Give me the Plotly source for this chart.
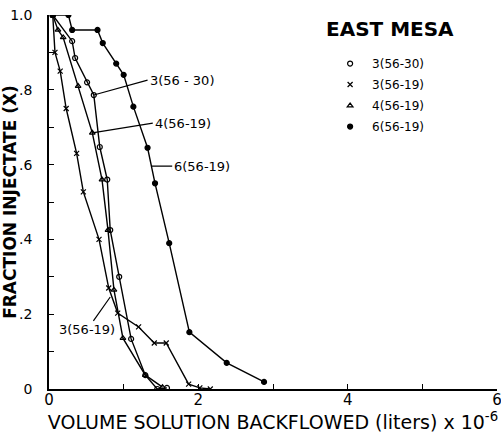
import plotly.graph_objects as go

# ---- data ----
series_names = ["3(56-30)", "3(56-19)", "4(56-19)", "6(56-19)"]

x_3_56_30 = [0.05, 0.31, 0.35, 0.51, 0.60, 0.68, 0.78, 0.82, 0.94, 1.10, 1.29, 1.45, 1.58]
y_3_56_30 = [1.00, 0.93, 0.885, 0.82, 0.786, 0.647, 0.56, 0.425, 0.30, 0.134, 0.037, 0.0, 0.003]

x_3_56_19 = [0.05, 0.08, 0.15, 0.23, 0.37, 0.46, 0.67, 0.80, 0.92, 1.20, 1.41, 1.57, 1.87, 2.02, 2.16]
y_3_56_19 = [1.00, 0.90, 0.85, 0.75, 0.63, 0.527, 0.40, 0.27, 0.203, 0.166, 0.123, 0.123, 0.013, 0.003, 0.0]

x_4_56_19 = [0.05, 0.12, 0.19, 0.39, 0.58, 0.71, 0.79, 0.87, 0.99, 1.29, 1.52]
y_4_56_19 = [1.00, 0.96, 0.94, 0.81, 0.685, 0.56, 0.425, 0.265, 0.136, 0.037, 0.005]

x_6_56_19 = [0.05, 0.26, 0.31, 0.65, 0.72, 0.90, 1.00, 1.13, 1.32, 1.42, 1.61, 1.88, 2.38, 2.88]
y_6_56_19 = [1.00, 1.00, 0.96, 0.96, 0.925, 0.87, 0.84, 0.755, 0.645, 0.55, 0.39, 0.152, 0.07, 0.019]

x_tick_vals = [0, 1, 2, 3, 4, 5, 6]
x_tick_text = ["0", "", "2", "", "4", "", "6"]
y_tick_vals = [0, 0.1, 0.2, 0.3, 0.4, 0.5, 0.6, 0.7, 0.8, 0.9, 1.0]
y_tick_text = ["0", "", ".2", "", ".4", "", ".6", "", ".8", "", "1.0"]

series_x = [x_3_56_30, x_3_56_19, x_4_56_19, x_6_56_19]
series_y = [y_3_56_30, y_3_56_19, y_4_56_19, y_6_56_19]
symbols = ["circle-open", "x-thin-open", "triangle-up-open", "circle"]

FONT = "DejaVu Sans"
fig = go.Figure()

for name, xs, ys, sym in zip(series_names, series_x, series_y, symbols):
    fig.add_trace(go.Scatter(
        x=xs, y=ys, mode="lines+markers", name=name, showlegend=False,
        line=dict(color="black", width=1.4),
        marker=dict(symbol=sym, size=5, color="black", line=dict(color="black", width=1.2)),
    ))
# legend-only entries (markers only)
for name, sym in zip(series_names, symbols):
    fig.add_trace(go.Scatter(
        x=[None], y=[None], mode="markers", name=name, legendgroup=name,
        marker=dict(symbol=sym, size=5, color="black", line=dict(color="black", width=1.2)),
    ))

# curve labels with leader lines: (text, point x, point y, text x, text y, anchor)
labels = [
    ("3(56 - 30)", 0.60, 0.786, 1.32, 0.826, "left"),
    ("4(56-19)", 0.58, 0.685, 1.39, 0.711, "left"),
    ("6(56-19)", 1.37, 0.596, 1.65, 0.596, "left"),
    ("3(56-19)", 0.82, 0.246, 0.51, 0.158, "center"),
]
for text, px, py, tx, ty, anc in labels:
    fig.add_annotation(
        x=px, y=py, ax=tx, ay=ty, xref="x", yref="y", axref="x", ayref="y",
        text=text, showarrow=True, arrowhead=0, arrowwidth=1.2, arrowcolor="black",
        standoff=0, startstandoff=0, xanchor=anc,
        font=dict(family=FONT, size=13, color="black"),
    )

fig.add_annotation(
    x=0.761, y=0.963, xref="paper", yref="paper", showarrow=False,
    text="<b>EAST MESA</b>", xanchor="center", yanchor="middle",
    font=dict(family=FONT, size=20, color="black"),
)

fig.update_layout(
    width=501, height=434,
    margin=dict(l=49, r=4, t=15, b=45, autoexpand=False),
    paper_bgcolor="white", plot_bgcolor="white",
    font=dict(family=FONT, color="black"),
    legend=dict(
        x=0.623, y=0.909, xanchor="left", yanchor="top",
        font=dict(family=FONT, size=12, color="black"),
        bgcolor="rgba(0,0,0,0)", tracegroupgap=2, itemwidth=34,
    ),
    xaxis=dict(
        range=[0, 6], tickvals=x_tick_vals, ticktext=x_tick_text,
        ticks="inside", ticklen=5, tickcolor="black", tickwidth=1.2,
        showline=True, linecolor="black", linewidth=1.5, showgrid=False, zeroline=False,
        tickfont=dict(family=FONT, size=15, color="black"), automargin=False,
        ticklabeloverflow="allow", ticklabelstandoff=-4,
        title=dict(text="VOLUME SOLUTION BACKFLOWED (liters) x 10<sup>-6</sup>",
                   font=dict(family=FONT, size=19, color="black"), standoff=2),
    ),
    yaxis=dict(
        range=[0, 1.0], tickvals=y_tick_vals, ticktext=y_tick_text,
        ticks="inside", ticklen=5, tickcolor="black", tickwidth=1.2,
        showline=True, linecolor="black", linewidth=1.5, showgrid=False, zeroline=False,
        tickfont=dict(family=FONT, size=14, color="black"), automargin=False,
        ticklabeloverflow="allow", ticklabelstandoff=12,
        title=dict(text="<b>FRACTION INJECTATE (X)</b>",
                   font=dict(family=FONT, size=17, color="black"), standoff=0),
    ),
)

fig.write_html("out.html", config={"displayModeBar": False},
               post_script="document.body.style.margin='0';")
